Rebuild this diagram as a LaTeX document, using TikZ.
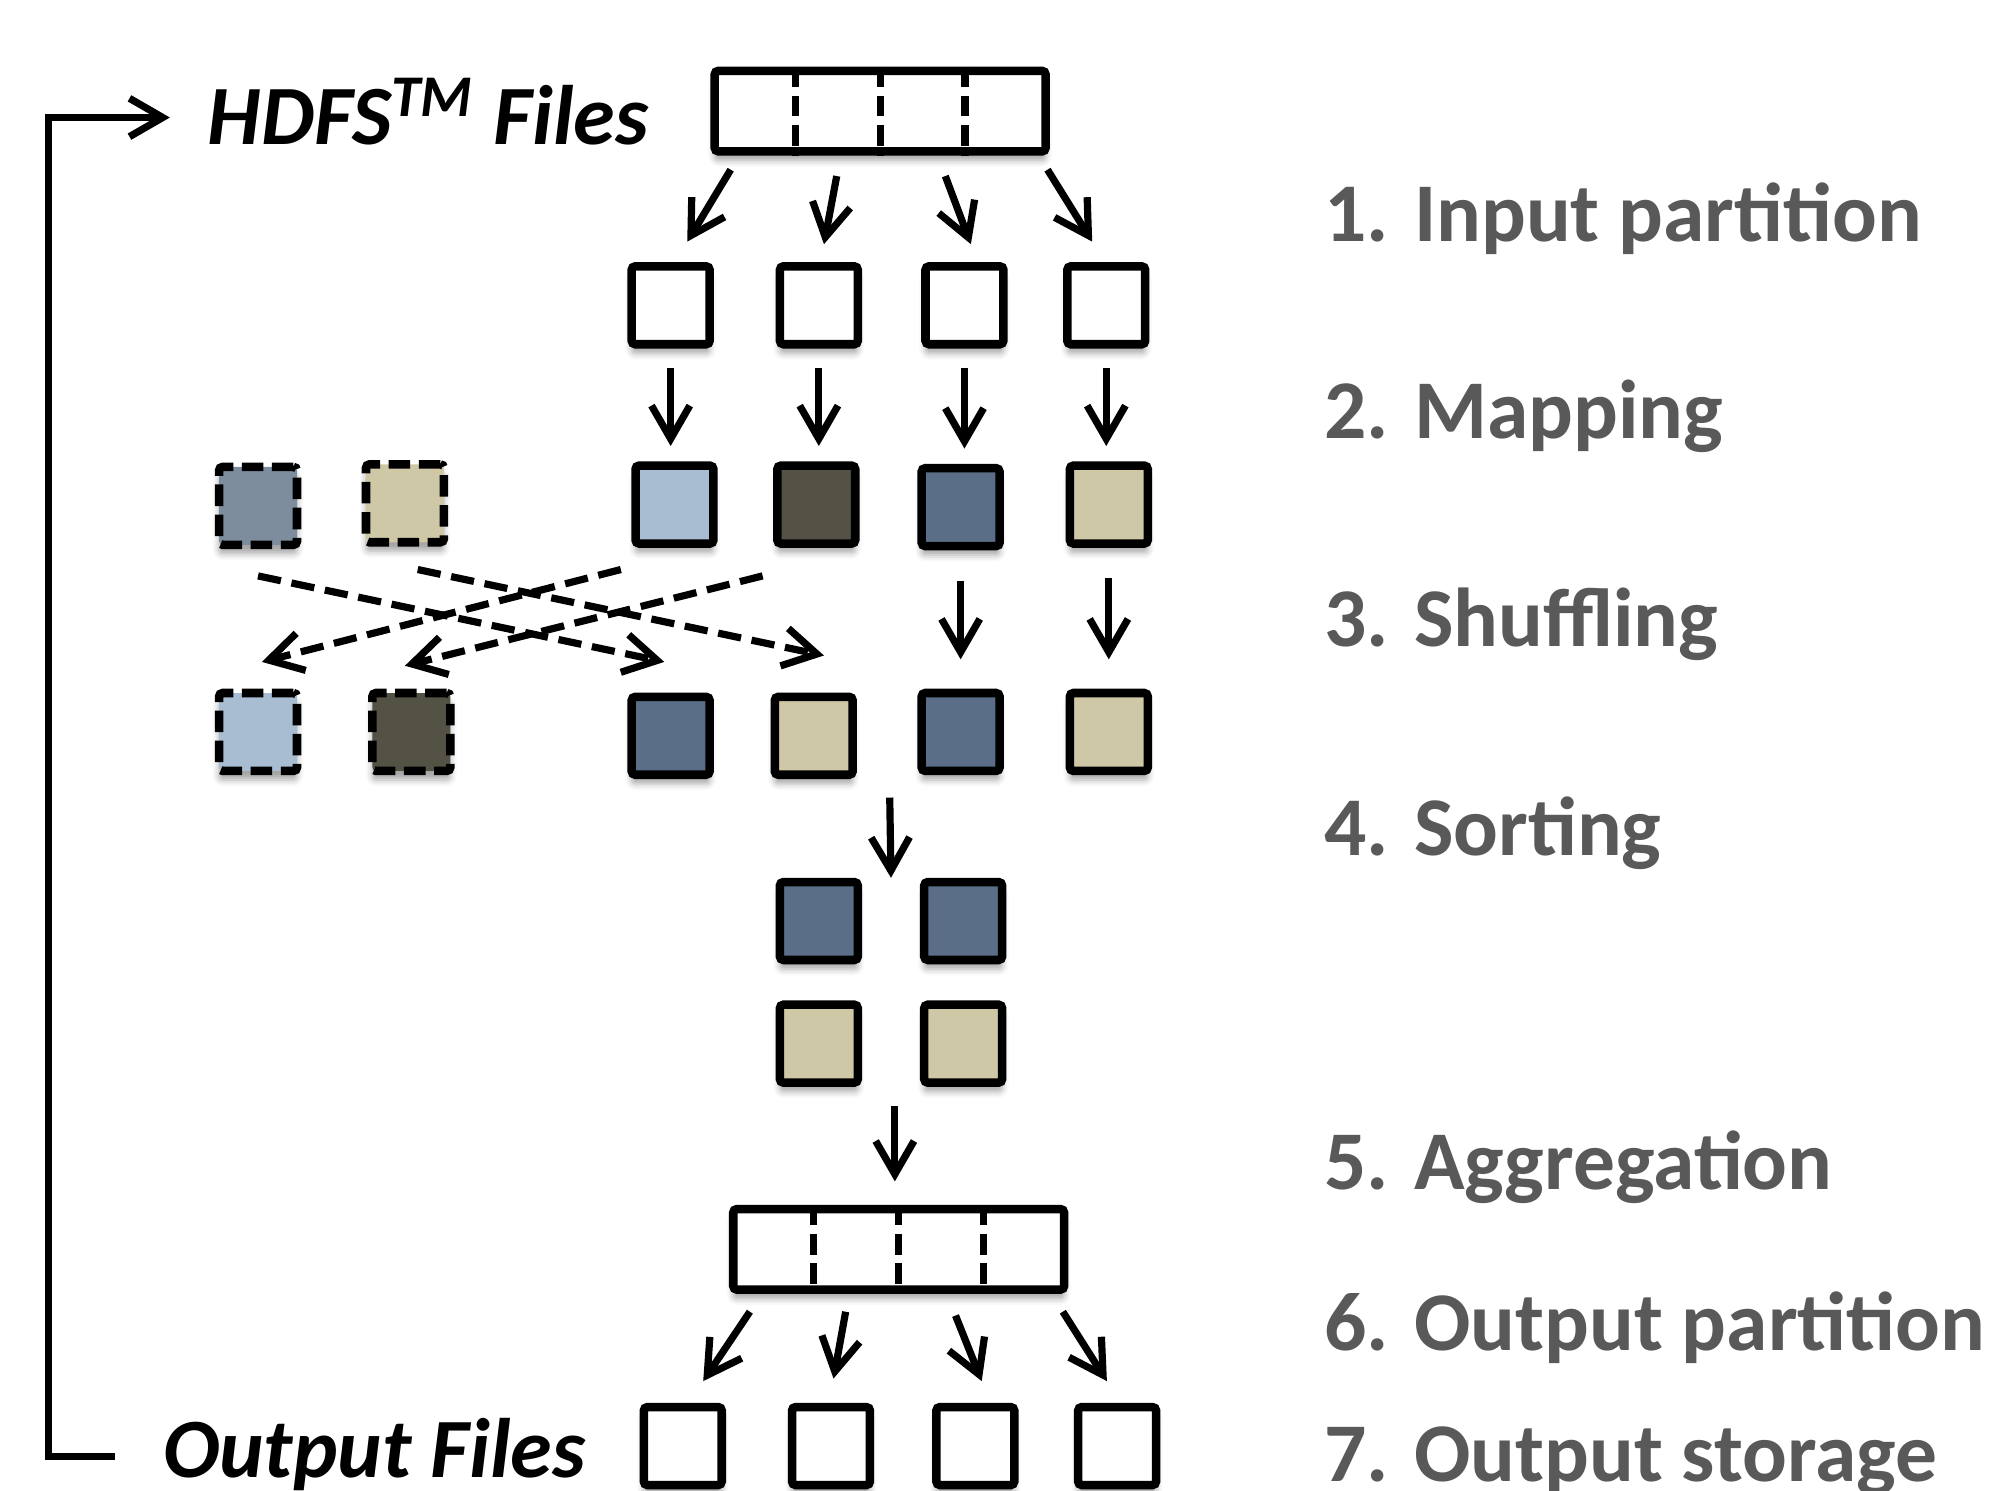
\documentclass[tikz,border=0pt]{standalone}
\usepackage{fontspec}
\setmainfont{Carlito}
\usetikzlibrary{arrows.meta,calc,shadows.blur}

\definecolor{paleblue}{HTML}{A8BCD2}
\definecolor{darkolive}{HTML}{545244}
\definecolor{slate}{HTML}{5A6E87}
\definecolor{sand}{HTML}{CEC8A7}
\definecolor{steel}{HTML}{7D8D9E}
\definecolor{labelgray}{HTML}{595959}

\tikzset{
    blk/.style={draw, line width=1.9pt, minimum size=6.1mm, inner sep=0pt,
        rounded corners=0.8pt, fill=white,
        blur shadow={shadow xshift=0pt, shadow yshift=-0.7mm,
            shadow blur radius=0.5mm, shadow opacity=35}},
    ghost/.style={blk, dash pattern=on 4.8pt off 1.9pt},
    bar/.style={blk, minimum width=25.9mm, minimum height=6.3mm},
    divider/.style={line width=1.6pt, dash pattern=on 4.6pt off 1.9pt},
    arr/.style={line width=1.6pt, -{Straight Barb[length=2.6mm, width=3mm]}},
    shuf/.style={arr, dash pattern=on 5.2pt off 2.4pt},
    lbl/.style={anchor=base west, inner sep=0pt, text=labelgray,
        font=\bfseries\fontsize{18.6}{22}\selectfont},
    files/.style={anchor=base west, inner sep=0pt,
        font=\bfseries\itshape\fontsize{18.8}{23}\selectfont},
}

\begin{document}
\begin{tikzpicture}[y=-1cm]
    \useasboundingbox (0,0) rectangle (15.68,11.67);

    % input file and its splits
    \node[bar] (hdfs) at (6.89,0.87) {};
    \foreach \k in {1,2,3}
        \draw[divider] ($(hdfs.north west)!\k/4!(hdfs.north east)$) -- ($(hdfs.south west)!\k/4!(hdfs.south east)$);
    \node[blk] (in1) at (5.25,2.39) {};
    \node[blk] (in2) at (6.41,2.39) {};
    \node[blk] (in3) at (7.55,2.39) {};
    \node[blk] (in4) at (8.66,2.39) {};

    % map output
    \node[ghost, fill=steel] (lt1) at (2.02,3.96) {};
    \node[ghost, fill=sand] (lt2) at (3.17,3.94) {};
    \node[blk, fill=paleblue] (map1) at (5.28,3.95) {};
    \node[blk, fill=darkolive] (map2) at (6.39,3.95) {};
    \node[blk, fill=slate] (map3) at (7.52,3.97) {};
    \node[blk, fill=sand] (map4) at (8.68,3.95) {};

    % after the shuffle
    \node[ghost, fill=paleblue] (gh1) at (2.02,5.73) {};
    \node[ghost, fill=darkolive] (gh2) at (3.22,5.73) {};
    \node[blk, fill=slate] (red1) at (5.25,5.76) {};
    \node[blk, fill=sand] (red2) at (6.37,5.76) {};
    \node[blk, fill=slate] (red3) at (7.52,5.73) {};
    \node[blk, fill=sand] (red4) at (8.68,5.73) {};

    % sorted
    \node[blk, fill=slate] (srt1) at (6.41,7.21) {};
    \node[blk, fill=slate] (srt2) at (7.54,7.21) {};
    \node[blk, fill=sand] (srt3) at (6.41,8.17) {};
    \node[blk, fill=sand] (srt4) at (7.54,8.17) {};

    % output file and its parts
    \node[bar] (out) at (7.035,9.78) {};
    \foreach \k in {1,2,3}
        \draw[divider] ($(out.north west)!\k/4!(out.north east)$) -- ($(out.south west)!\k/4!(out.south east)$);
    \node[blk] (o1) at (5.345,11.32) {};
    \node[blk] (o2) at (6.505,11.32) {};
    \node[blk] (o3) at (7.635,11.32) {};
    \node[blk] (o4) at (8.745,11.32) {};

    % arrows
    \draw[arr] ($(hdfs.south)+(-1.17,0.11)$) -- ($(in1.north)+(0.13,-0.16)$);
    \draw[arr] ($(hdfs.south)+(-0.34,0.16)$) -- ($(in2.north)+(0.04,-0.14)$);
    \draw[arr] ($(hdfs.south)+(0.51,0.16)$) -- ($(in3.north)+(0.05,-0.14)$);
    \draw[arr] ($(hdfs.south)+(1.31,0.11)$) -- ($(in4.north)+(-0.11,-0.16)$);

    \draw[arr, shorten <=1.5mm, shorten >=1.2mm] (in1.south) -- (in1.south |- map1.north);
    \draw[arr, shorten <=1.5mm, shorten >=1.2mm] (in2.south) -- (in2.south |- map2.north);
    \draw[arr, shorten <=1.5mm, shorten >=1.2mm] (in3.south) -- (in3.south |- map3.north);
    \draw[arr, shorten <=1.5mm, shorten >=1.2mm] (in4.south) -- (in4.south |- map4.north);

    \draw[arr, shorten <=2.4mm, shorten >=2.3mm] (map3.south) -- (map3.south |- red3.north);
    \draw[arr, shorten <=2.4mm, shorten >=2.3mm] (map4.south) -- (map4.south |- red4.north);

    \draw[shuf] ($(lt1.south)+(0,0.21)$) -- ($(red1.north)+(-0.05,-0.24)$);
    \draw[shuf] ($(lt2.south)+(0.10,0.18)$) -- ($(red2.north)+(0.08,-0.29)$);
    \draw[shuf] ($(map1.south)+(-0.42,0.17)$) -- ($(gh1.north)+(0.03,-0.21)$);
    \draw[shuf] ($(map2.south)+(-0.42,0.22)$) -- ($(gh2.north)+(-0.05,-0.18)$);

    \coordinate (sortin) at ($(srt1.north)!0.5!(srt2.north)$);
    \draw[arr] ($(red2.south)!0.5!(red3.south)+(0.02,0.16)$) -- (sortin);
    \draw[arr, shorten <=1.5mm, shorten >=1.8mm] ($(srt3.south)!0.5!(srt4.south)+(0.03,0)$) -- ++(0,0.92);

    \draw[arr] ($(out.south)+(-1.165,0.14)$) -- ($(o1.north)+(0.16,-0.17)$);
    \draw[arr] ($(out.south)+(-0.415,0.14)$) -- ($(o2.north)+(0.02,-0.19)$);
    \draw[arr] ($(out.south)+(0.445,0.17)$) -- ($(o3.north)+(0.05,-0.17)$);
    \draw[arr] ($(out.south)+(1.285,0.14)$) -- ($(o4.north)+(-0.08,-0.17)$);

    % labels
    \node[files] (hdfslbl) at (1.62,1.13) {HDFS\textsuperscript{TM} Files};
    \node[files] (outlbl) at (1.27,11.57) {Output Files};

    \coordinate (fbend) at (0.90,11.40);
    \coordinate (fbtip) at (1.33,0.92);
    \draw[arr] (fbend) -- ++(-0.52,0) |- (fbtip);

    \node[lbl] (s1) at (10.36,1.89) {1. Input partition};
    \node[lbl] (s2) at (10.36,3.43) {2. Mapping};
    \node[lbl] (s3) at (10.36,5.06) {3. Shuffling};
    \node[lbl] (s4) at (10.36,6.70) {4. Sorting};
    \node[lbl] (s5) at (10.36,9.31) {5. Aggregation};
    \node[lbl] (s6) at (10.36,10.57) {6. Output partition};
    \node[lbl] (s7) at (10.36,11.60) {7. Output storage};
\end{tikzpicture}
\end{document}
